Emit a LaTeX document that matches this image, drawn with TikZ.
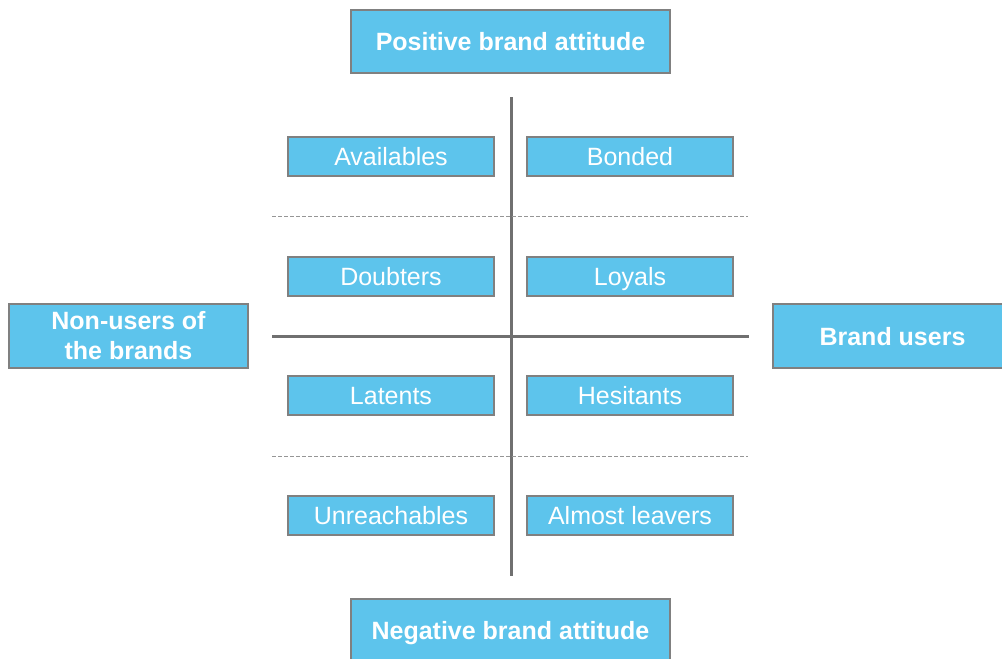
\documentclass[tikz,border=0pt]{standalone}
\usepackage{fontspec}
\setmainfont{Liberation Sans}
\begin{document}
\begin{tikzpicture}[x=1pt,y=-1pt,
  boxfill/.style={fill={rgb,255:red,93;green,196;blue,236}, draw={rgb,255:red,128;green,128;blue,128}, line width=1.4pt},
  headbox/.style={boxfill, font=\fontsize{25}{30}\selectfont\bfseries, text=white, align=center, inner sep=0pt},
  oneline/.style={text height=18pt, text depth=0pt},
  segbox/.style={boxfill, oneline, font=\fontsize{25}{30}\selectfont, text=white, inner sep=0pt, minimum width=206pt, minimum height=39pt},
  axis/.style={draw={rgb,255:red,112;green,112;blue,112}, line width=3pt},
  divider/.style={draw={rgb,255:red,150;green,150;blue,150}, line width=1pt, dash pattern=on 3.5pt off 2.5pt}]
\useasboundingbox (0,0) rectangle (1002,659);

% axis headers
\node[headbox, oneline, minimum width=319pt, minimum height=63pt] (pos) at (510.5,41.5) {Positive brand attitude};
\node[headbox, oneline, minimum width=319pt, minimum height=63pt] (neg) at (510.5,630.5) {Negative brand attitude};
\node[headbox, minimum width=239pt, minimum height=64pt] (non) at (128.5,336) {Non-users of\\the brands};
\node[headbox, oneline, minimum width=239pt, minimum height=64pt] (users) at (892.5,336) {Brand users};

% axes
\coordinate (vtop) at (511,97);
\coordinate (vbot) at (511,576);
\coordinate (hleft) at (272,336);
\coordinate (hright) at (749,336);
\draw[axis] (vtop) -- (vbot);
\draw[axis] (hleft) -- (hright);

% dividers
\coordinate (d1l) at (272,216);
\coordinate (d1r) at (748,216);
\coordinate (d2l) at (272,456);
\coordinate (d2r) at (748,456);
\draw[divider] (d1l) -- (d1r);
\draw[divider] (d2l) -- (d2r);

% segments
\node[segbox] (avail) at (391,156.5) {Availables};
\node[segbox] (bond) at (630,156.5) {Bonded};
\node[segbox] (doubt) at (391,276.5) {Doubters};
\node[segbox] (loyal) at (630,276.5) {Loyals};
\node[segbox] (latent) at (391,395.5) {Latents};
\node[segbox] (hesit) at (630,395.5) {Hesitants};
\node[segbox] (unreach) at (391,515.5) {Unreachables};
\node[segbox] (leave) at (630,515.5) {Almost leavers};
\end{tikzpicture}
\end{document}
